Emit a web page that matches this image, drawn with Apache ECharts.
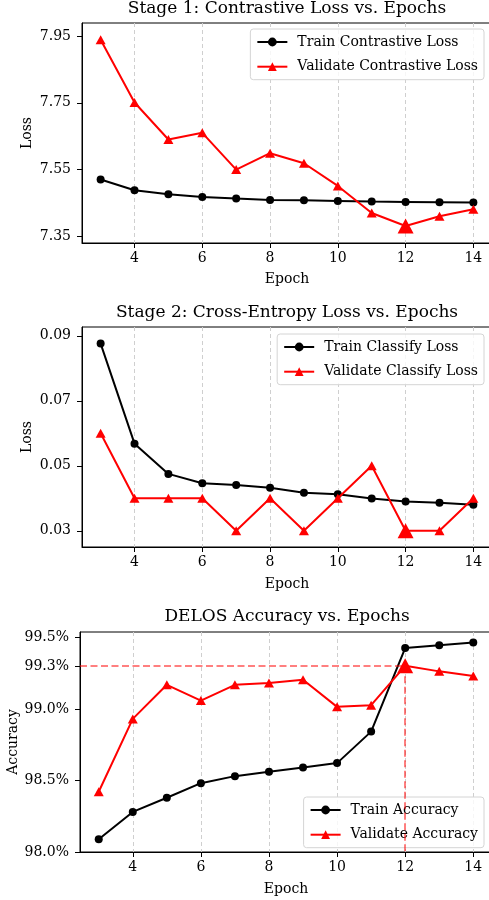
<!DOCTYPE html>
<html>
<head>
<meta charset="utf-8">
<script src="https://cdn.jsdelivr.net/npm/echarts@6/dist/echarts.min.js"></script>
<style>
    html, body { margin: 0; padding: 0; background: #fff; }
    #main { width: 489px; height: 900px; }
</style>
</head>
<body>
<div id="main"></div>
<script>
// 数据
var epochs = [3, 4, 5, 6, 7, 8, 9, 10, 11, 12, 13, 14];
var trainContrastive = [7.520, 7.488, 7.476, 7.468, 7.463, 7.459, 7.458, 7.456, 7.454, 7.453, 7.452, 7.451];
var valContrastive = [7.939, 7.751, 7.640, 7.660, 7.550, 7.599, 7.569, 7.501, 7.420, 7.381, 7.410, 7.431];
var trainClassify = [0.0876, 0.0568, 0.0475, 0.0446, 0.0441, 0.0432, 0.0417, 0.0412, 0.0399, 0.0390, 0.0386, 0.0380];
var valClassify = [0.060, 0.040, 0.040, 0.040, 0.030, 0.040, 0.030, 0.040, 0.050, 0.030, 0.030, 0.040];
var trainAcc = [98.089, 98.280, 98.379, 98.481, 98.530, 98.561, 98.591, 98.621, 98.841, 99.425, 99.444, 99.463];
var valAcc = [98.421, 98.930, 99.168, 99.058, 99.168, 99.180, 99.203, 99.014, 99.026, 99.301, 99.262, 99.229];

// 刻度
var xTicks = [4, 6, 8, 10, 12, 14];
var yTicks1 = [7.35, 7.55, 7.75, 7.95];
var yTicks2 = [0.03, 0.05, 0.07, 0.09];
var yTicks3 = [98.0, 98.5, 99.0, 99.3, 99.5];

var FONT = 'DejaVu Serif';
var FS = 14;

// 最佳 epoch（验证准确率最高）
var bestIdx = 0;
for (var i = 1; i < valAcc.length; i++) {
    if (valAcc[i] > valAcc[bestIdx]) bestIdx = i;
}
var bestEpoch = epochs[bestIdx];
var bestAcc = valAcc[bestIdx];

function pairs(ys, big) {
    var out = [];
    for (var i = 0; i < epochs.length; i++) {
        if (big && i === bestIdx) {
            out.push({ value: [epochs[i], ys[i]], symbolSize: [16, 15] });
        } else {
            out.push([epochs[i], ys[i]]);
        }
    }
    return out;
}

function xAxis(gi, gap) {
    return {
        type: 'value', gridIndex: gi, min: 2.45, max: 14.55,
        name: 'Epoch', nameLocation: 'middle', nameGap: gap, nameMoveOverlap: false,
        nameTextStyle: { fontFamily: FONT, fontSize: FS, color: '#000' },
        axisLine: { show: true, lineStyle: { color: '#000', width: 1 } },
        axisTick: { show: true, length: 5, customValues: xTicks, lineStyle: { color: '#000' } },
        axisLabel: { customValues: xTicks, margin: 8, fontFamily: FONT, fontSize: FS, color: '#000' },
        splitLine: { show: true, lineStyle: { color: '#cfcfcf', type: [4, 3], width: 1 } }
    };
}

function yAxis(gi, min, max, ticks, name, gap, fmt) {
    return {
        type: 'value', gridIndex: gi, min: min, max: max,
        name: name, nameLocation: 'middle', nameGap: gap, nameMoveOverlap: false,
        nameTextStyle: { fontFamily: FONT, fontSize: FS, color: '#000' },
        axisLine: { show: true, lineStyle: { color: '#000', width: 1 } },
        axisTick: { show: true, length: 5, customValues: ticks, lineStyle: { color: '#000' } },
        axisLabel: { customValues: ticks, margin: 11, fontFamily: FONT, fontSize: FS, color: '#000', formatter: fmt },
        splitLine: { show: false }
    };
}

function legend(names, top) {
    return {
        data: names, orient: 'vertical', right: 5, top: top,
        itemWidth: 30, itemHeight: 11, itemGap: 10.7,
        padding: [6, 6, 6, 6],
        backgroundColor: 'rgba(255,255,255,0.8)',
        borderColor: '#d4d4d4', borderWidth: 1, borderRadius: 3,
        textStyle: { fontFamily: FONT, fontSize: FS, color: '#000', padding: [0, 0, 0, 5] }
    };
}

function line(name, gi, ys, isVal) {
    return {
        name: name, type: 'line', xAxisIndex: gi, yAxisIndex: gi,
        data: pairs(ys, isVal),
        symbol: isVal ? 'triangle' : 'circle',
        symbolSize: isVal ? [10, 9] : 8,
        showAllSymbol: true,
        color: isVal ? '#ff0000' : '#000000',
        lineStyle: { width: 2 },
        itemStyle: { color: isVal ? '#ff0000' : '#000000' },
        animation: false,
        z: isVal ? 3 : 2
    };
}

function grid(left, top, width) {
    return {
        left: left, top: top, width: width, height: 220,
        containLabel: false, outerBoundsMode: 'none',
        show: true, borderColor: '#000', borderWidth: 1, backgroundColor: 'transparent'
    };
}

var myChart = echarts.init(document.getElementById('main'), null, { renderer: 'canvas' });

var titleStyle = { fontFamily: FONT, fontSize: 17, fontWeight: 'normal', color: '#000' };

var accSeries = line('Validate Accuracy', 2, valAcc, true);
accSeries.markLine = {
    silent: true, symbol: 'none', animation: false,
    label: { show: false },
    lineStyle: { color: 'rgba(255,0,0,0.5)', type: [7, 3.5], width: 2 },
    data: [
        [{ coord: [2.45, bestAcc] }, { coord: [bestEpoch, bestAcc] }],
        [{ coord: [bestEpoch, bestAcc] }, { coord: [bestEpoch, 98.0] }]
    ]
};

var option = {
    animation: false,
    title: [
        { text: 'Stage 1: Contrastive Loss vs. Epochs', left: 287, top: 0, textAlign: 'center', padding: 0, textStyle: titleStyle },
        { text: 'Stage 2: Cross-Entropy Loss vs. Epochs', left: 287, top: 304, textAlign: 'center', padding: 0, textStyle: titleStyle },
        { text: 'DELOS Accuracy vs. Epochs', left: 287, top: 608, textAlign: 'center', padding: 0, textStyle: titleStyle }
    ],
    legend: [
        legend(['Train Contrastive Loss', 'Validate Contrastive Loss'], 29),
        legend(['Train Classify Loss', 'Validate Classify Loss'], 334),
        legend(['Train Accuracy', 'Validate Accuracy'], 797)
    ],
    grid: [grid(82, 23, 410), grid(82, 327, 410), grid(80, 632, 412)],
    xAxis: [xAxis(0, 29), xAxis(1, 30), xAxis(2, 30)],
    yAxis: [
        yAxis(0, 7.33, 7.989, yTicks1, 'Loss', 48, function (v) { return v.toFixed(2); }),
        yAxis(1, 0.025, 0.0927, yTicks2, 'Loss', 48, function (v) { return v.toFixed(2); }),
        yAxis(2, 98.0, 99.537, yTicks3, 'Accuracy', 60, function (v) { return v.toFixed(1) + '%'; })
    ],
    series: [
        line('Train Contrastive Loss', 0, trainContrastive, false),
        line('Validate Contrastive Loss', 0, valContrastive, true),
        line('Train Classify Loss', 1, trainClassify, false),
        line('Validate Classify Loss', 1, valClassify, true),
        line('Train Accuracy', 2, trainAcc, false),
        accSeries
    ]
};

myChart.setOption(option);
</script>
</body>
</html>
